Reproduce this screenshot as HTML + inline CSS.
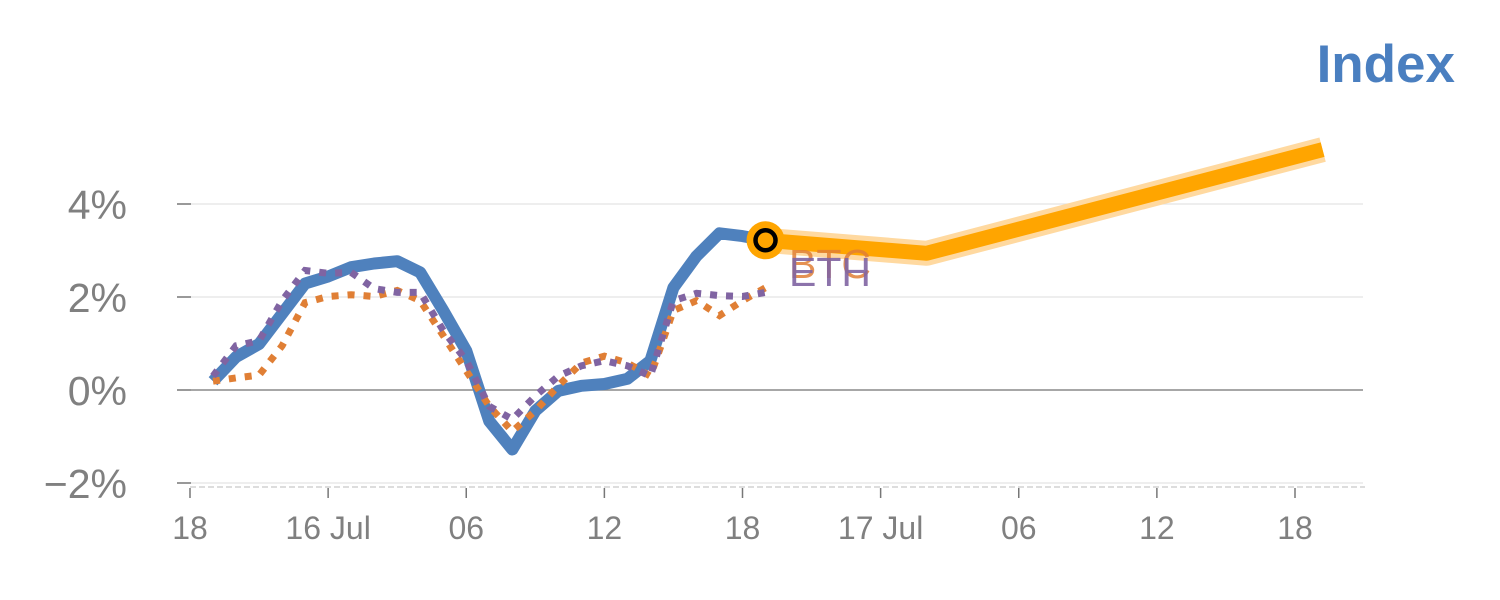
<!DOCTYPE html>
<html><head><meta charset="utf-8"><style>
body{margin:0;background:#fff;}
svg{display:block;font-family:"Liberation Sans",sans-serif;}
</style></head><body>
<svg id="chart" width="1500" height="600">
<text x="1455" y="82" text-anchor="end" font-size="53" font-weight="bold" fill="#4a7fc0">Index</text>
<g id="grid"></g><g id="axes"></g><g id="series"></g>
</svg>
<script>
const yTicks=[4,2,0,-2];
const yTickLabels=["4%","2%","0%","\u22122%"];
const xTickHours=[0,6,12,18,24,30,36,42,48];
const xTickLabels=["18","16 Jul","06","12","18","17 Jul","06","12","18"];
// hours since 15 Jul 18:00
const histHours=[1,2,3,4,5,6,7,8,9,10,11,12,13,14,15,16,17,18,19,20,21,22,23,24,25];
const indexVals=[0.19,0.71,0.99,1.64,2.29,2.44,2.64,2.72,2.77,2.53,1.71,0.84,-0.67,-1.28,-0.45,-0.02,0.09,0.13,0.24,0.63,2.2,2.88,3.37,3.31,3.22];
const btcVals=[0.19,0.26,0.32,0.95,1.88,2.01,2.05,2.01,2.14,1.92,1.17,0.41,-0.35,-0.89,-0.45,0.09,0.58,0.73,0.58,0.30,1.71,1.92,1.60,1.92,2.2];
const ethVals=[0.30,0.95,1.06,1.92,2.57,2.51,2.53,2.18,2.10,2.10,1.28,0.63,-0.35,-0.63,-0.13,0.30,0.52,0.63,0.52,0.30,1.92,2.08,2.03,2.01,2.10];
const fcHours=[25,32,49.2];
const fcVals=[3.22,2.94,5.17];

const NS="http://www.w3.org/2000/svg";
const X=h=>190+h*(1295-190)/48;
const Y=v=>390-v*46.5;
function mk(tag,attrs,parent){const e=document.createElementNS(NS,tag);for(const k in attrs)e.setAttribute(k,attrs[k]);document.getElementById(parent).appendChild(e);return e;}
yTicks.forEach((v,i)=>{
  const g=mk('line',{x1:191,x2:1363,y1:Y(v),y2:Y(v),stroke:v===0?'#8a8a8a':'#e3e3e3','stroke-width':v===0?1.5:1.2},'grid');
  
  
  const t=mk('line',{x1:177,x2:191,y1:Y(v),y2:Y(v),stroke:'#777','stroke-width':1.5},'axes');
  
  
  const l=mk('text',{x:127,y:Y(v)+15,'text-anchor':'end','font-size':41,fill:'#808080'},'axes');
  l.textContent=yTickLabels[i];
  
  
});
const ax=mk('line',{x1:190,x2:1365,y1:487,y2:487,stroke:'#ddd','stroke-width':2,'stroke-dasharray':'6 3'},'axes');


xTickHours.forEach((h,i)=>{
  const t=mk('line',{x1:X(h),x2:X(h),y1:488,y2:498,stroke:'#777','stroke-width':1.5},'axes');
  
  
  const l=mk('text',{x:X(h),y:539,'text-anchor':'middle','font-size':32,fill:'#808080'},'axes');
  l.textContent=xTickLabels[i];
  
  
});
const pts=(hs,vs)=>hs.map((h,i)=>X(h).toFixed(1)+','+Y(vs[i]).toFixed(1)).join(' ');
const f1=mk('polyline',{points:pts(fcHours,fcVals),fill:'none',stroke:'#ffd9a0','stroke-width':25,'stroke-linejoin':'round'},'series');


const f2=mk('polyline',{points:pts(fcHours,fcVals),fill:'none',stroke:'#ffa500','stroke-width':15,'stroke-linejoin':'round'},'series');


const il=mk('polyline',{points:pts(histHours,indexVals),fill:'none',stroke:'#4f81bd','stroke-width':12,'stroke-linejoin':'round'},'series');


const bl=mk('polyline',{points:pts(histHours,btcVals),fill:'none',stroke:'#e07f35','stroke-width':7,'stroke-dasharray':'7 9'},'series');


const el=mk('polyline',{points:pts(histHours,ethVals),fill:'none',stroke:'#8064a2','stroke-width':7,'stroke-dasharray':'7 9'},'series');


const n=histHours.length-1;
const mc=mk('circle',{cx:X(histHours[n]),cy:Y(indexVals[n]),r:19,fill:'#ffa500'},'series');


const mi=mk('circle',{cx:X(histHours[n]),cy:Y(indexVals[n]),r:10,fill:'none',stroke:'#000','stroke-width':4.5},'series');


const bt=mk('text',{x:789,y:278,'font-size':41,fill:'#e07f35','fill-opacity':0.85},'series');
bt.textContent='BTC';


const et=mk('text',{x:789,y:286,'font-size':41,fill:'#8064a2','fill-opacity':0.9},'series');
et.textContent='ETH';


</script>
</body></html>
